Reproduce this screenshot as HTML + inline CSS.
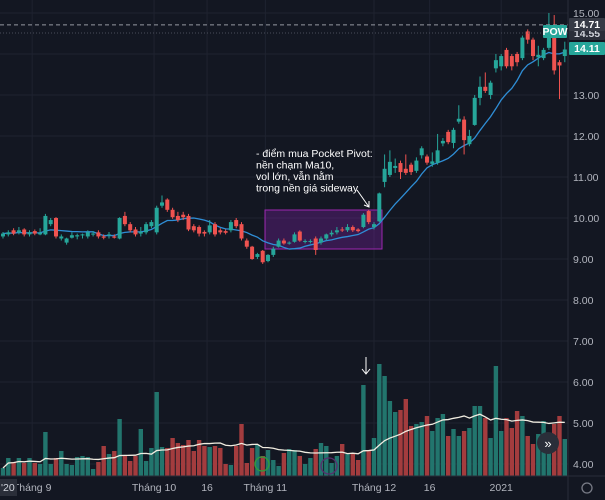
<!DOCTYPE html>
<html><head><meta charset="utf-8"><style>
html,body{margin:0;padding:0;background:#131722;}
#wrap{position:relative;width:605px;height:500px;overflow:hidden;background:#131722;font-family:"Liberation Sans","Noto Sans CJK JP",sans-serif;}
svg{position:absolute;left:0;top:0;}
</style></head><body>
<div id="wrap">
<svg id="chart" width="605" height="500" xmlns="http://www.w3.org/2000/svg"></svg>
</div>
<script>
const opens=[9.55,9.6,9.7,9.65,9.72,9.6,9.68,9.6,9.6,9.85,10.0,9.5,9.4,9.52,9.55,9.58,9.55,9.6,9.65,9.55,9.58,9.55,9.5,10.05,9.85,9.72,9.62,9.65,9.8,9.65,10.3,10.45,10.2,10.05,10.08,10.05,9.8,9.78,9.66,9.65,9.85,9.7,9.68,9.7,9.95,9.85,9.45,9.3,9.05,9.2,8.95,9.1,9.3,9.45,9.38,9.42,9.67,9.42,9.42,9.5,9.4,9.5,9.6,9.65,9.72,9.7,9.78,9.72,9.78,10.17,9.78,9.92,10.88,11.05,11.22,11.34,11.2,11.3,11.15,11.53,11.5,11.32,11.35,11.82,12.1,11.83,12.35,12.4,11.8,12.27,12.93,13.2,13.0,13.65,13.7,14.1,13.95,14.0,13.9,14.55,14.35,13.92,13.9,14.15,14.4,13.8,13.95];
const highs=[9.66,9.7,9.75,9.78,9.75,9.7,9.72,9.75,10.1,10.0,10.02,9.6,9.52,9.65,9.62,9.62,9.7,9.68,9.7,9.6,9.66,9.6,10.02,10.15,9.9,9.78,9.78,9.9,9.95,10.3,10.55,10.48,10.25,10.15,10.15,10.1,9.85,9.82,9.7,9.95,9.9,9.75,9.72,9.95,10.0,9.9,9.5,9.32,9.15,9.22,9.12,9.3,9.5,9.5,9.43,9.65,9.7,9.48,9.48,9.55,9.55,9.62,9.7,9.78,9.78,9.85,9.82,9.75,10.12,10.2,9.9,10.62,11.55,11.65,11.45,11.4,11.55,11.35,11.48,11.75,11.55,11.6,12.05,11.95,12.15,12.2,12.75,12.48,12.15,13.0,13.45,13.55,13.35,14.0,14.0,14.15,14.0,14.05,14.45,14.6,14.4,14.2,14.15,15.0,14.95,13.85,14.3];
const lows=[9.5,9.55,9.58,9.6,9.55,9.55,9.58,9.58,9.58,9.8,9.5,9.45,9.35,9.5,9.48,9.5,9.5,9.55,9.5,9.48,9.5,9.5,9.48,9.8,9.65,9.55,9.55,9.6,9.75,9.6,10.25,10.15,9.98,9.9,9.95,9.68,9.65,9.55,9.55,9.6,9.55,9.6,9.6,9.65,9.75,9.45,9.25,8.98,9.0,8.88,8.92,9.05,9.28,9.35,9.35,9.4,9.42,9.38,9.38,9.1,9.35,9.45,9.55,9.6,9.66,9.66,9.66,9.65,9.75,9.85,9.72,9.9,10.75,11.0,11.1,10.95,11.05,11.05,11.1,11.45,11.3,11.25,11.3,11.75,11.8,11.7,12.3,11.55,11.75,12.25,12.75,13.05,12.9,13.55,13.6,13.65,13.6,13.7,13.85,14.25,13.85,13.7,13.85,14.1,13.5,12.9,13.8];
const closes=[9.62,9.65,9.62,9.7,9.6,9.65,9.62,9.64,10.05,9.95,9.55,9.55,9.5,9.58,9.58,9.6,9.65,9.62,9.55,9.52,9.6,9.52,10.0,9.85,9.7,9.6,9.66,9.85,9.9,10.25,10.38,10.2,10.02,9.95,10.02,9.72,9.7,9.62,9.62,9.82,9.6,9.65,9.64,9.9,9.8,9.5,9.3,9.0,9.12,8.92,9.1,9.25,9.45,9.38,9.4,9.6,9.45,9.44,9.44,9.22,9.5,9.6,9.64,9.7,9.7,9.78,9.7,9.68,10.08,9.9,9.85,10.6,11.2,11.37,11.27,11.12,11.1,11.12,11.4,11.7,11.35,11.38,11.65,11.88,11.85,12.15,12.42,11.9,12.0,12.93,13.2,13.1,13.3,13.85,13.95,13.7,13.7,13.8,14.4,14.35,13.95,13.98,14.1,14.45,13.6,13.72,14.11];
const volumes=[8,18,14,18,13,18,13,12,44,12,18,25,12,11,19,20,19,7,14,30,22,25,57,21,15,20,47,15,28,84,29,28,38,33,31,36,25,36,30,29,30,28,12,11,30,52,13,28,31,20,26,16,10,23,27,26,20,12,18,27,33,30,13,20,32,22,22,16,91,25,38,112,100,75,64,66,77,50,52,54,60,45,58,62,40,47,40,45,48,70,70,58,38,110,45,58,48,65,60,40,32,42,55,40,52,60,37];
const priceTicks=["15.00","13.00","12.00","11.00","10.00","9.00","8.00","7.00","6.00","5.00","4.00"];
const tickValues=[15,13,12,11,10,9,8,7,6,5,4];
const timeLabels=["Tháng 9","Tháng 10","16","Tháng 11","Tháng 12","16","2021"];
const timeIndex=[5.5,28.5,38.5,49.5,70,80.5,94];

const NS="http://www.w3.org/2000/svg";
const svg=document.getElementById('chart');
const X0=3,STEP=5.3,PW=568;
const xOf=i=>X0+i*STEP;
const yOf=p=>218-(p-10)*41;
const VBASE=476,VK=1.0;
const yVol=v=>VBASE-v*VK;
function mk(t,a){const e=document.createElementNS(NS,t);for(const k in a)e.setAttribute(k,a[k]);svg.appendChild(e);return e;}

// grid
tickValues.forEach((v,i)=>{const g=mk('line',{x1:0,x2:PW,y1:yOf(v),y2:yOf(v),stroke:'#1f2330','stroke-width':1});

});
[14].forEach(v=>{const g=mk('line',{x1:0,x2:PW,y1:yOf(v),y2:yOf(v),stroke:'#1f2330','stroke-width':1});

});
timeIndex.forEach(ti=>{const g=mk('line',{x1:xOf(ti),x2:xOf(ti),y1:0,y2:476,stroke:'#1f2330','stroke-width':1});

});

// volume bars
volumes.forEach((v,i)=>{const up=closes[i]>=opens[i];
const r=mk('rect',{x:xOf(i)-2.2,y:yVol(v),width:4.4,height:v*VK,fill:up?'#22756d':'#a33c3e'});

});
// volume MA20
let vpts=[];volumes.forEach((v,i)=>{const s=Math.max(0,i-19);let sum=0;for(let j=s;j<=i;j++)sum+=volumes[j];vpts.push(xOf(i)+','+yVol(sum/(i-s+1)));});
const vl=mk('polyline',{points:vpts.join(' '),fill:'none',stroke:'#f0ece0','stroke-width':1.3});



// sideway box
const box=mk('rect',{x:265,y:210,width:117,height:39,fill:'rgba(123,31,162,0.35)',stroke:'#9c27b0','stroke-width':1});



// MA10
let pts=[];closes.forEach((c,i)=>{const s=Math.max(0,i-9);let sum=0;for(let j=s;j<=i;j++)sum+=closes[j];pts.push(xOf(i)+','+yOf(sum/(i-s+1)));});
const ma=mk('polyline',{points:pts.join(' '),fill:'none',stroke:'#2f8ed6','stroke-width':1.3});



// candles
closes.forEach((c,i)=>{const o=opens[i],up=c>=o,col=up?'#26a69a':'#ef5350';const x=xOf(i);
const w=mk('line',{x1:x,x2:x,y1:yOf(highs[i]),y2:yOf(lows[i]),stroke:col,'stroke-width':1});


const top=yOf(Math.max(o,c)),h=Math.max(1,Math.abs(yOf(o)-yOf(c)));
const b=mk('rect',{x:x-2,y:top,width:4,height:h,fill:col});

});

// price lines
const d1=mk('line',{x1:0,x2:568,y1:yOf(14.71),y2:yOf(14.71),stroke:'#9598a1','stroke-width':1,'stroke-dasharray':'4 3'});


const d2=mk('line',{x1:0,x2:568,y1:33,y2:33,stroke:'#4a4e5a','stroke-width':1,'stroke-dasharray':'1 2'});



// axes
const ax=mk('line',{x1:568,x2:568,y1:0,y2:500,stroke:'#2a2e39'});


const bx=mk('line',{x1:0,x2:605,y1:476,y2:476,stroke:'#2a2e39'});


priceTicks.forEach((t,i)=>{const e=mk('text',{x:573,y:yOf(tickValues[i])+4,fill:'#b2b5be','font-size':'10.5'});e.textContent=t;

});
timeLabels.forEach((t,i)=>{const e=mk('text',{x:xOf(timeIndex[i]),y:491,fill:'#b2b5be','font-size':'10.5','text-anchor':'middle'});e.textContent=t;

});
const yb=mk('rect',{x:0,y:479,width:17,height:17,fill:'#2a2e39'});


const yt=mk('text',{x:1,y:491,fill:'#d1d4dc','font-size':'10.5'});yt.textContent="'20";



// price labels
function tag(x,y,w,fill,txt,name,tc){const r=mk('rect',{x:x,y:y,width:w,height:13,fill:fill,rx:1});


const t=mk('text',{x:x+w/2,y:y+10,fill:tc,'font-size':'10.5','text-anchor':'middle','font-weight':'bold'});t.textContent=txt;

}
tag(569,27,36,'#2a2e39','14.55','prev-close-tag','#d1d4dc');
tag(569,18,36,'#363a45','14.71','last-price-tag','#ffffff');
tag(543,25,24,'#26a69a','POW','symbol-tag','#ffffff');
tag(569,42,36,'#26a69a','14.11','ma10-tag','#ffffff');

// annotation
const lines=["- điểm mua Pocket Pivot:","nền chạm Ma10,","vol lớn, vẫn nằm"," trong nền giá sideway"];
lines.forEach((l,i)=>{const t=mk('text',{x:256,y:157+i*11.5,fill:'#ffffff','font-size':'10.5'});t.textContent=l;

});
const a1=mk('path',{d:'M357 190 L369 207 M364 205 L369 207 L369 201',fill:'none',stroke:'#ffffff','stroke-width':1});


const a2=mk('path',{d:'M366 357 L366 374 M362 369 L366 374 L370 369',fill:'none',stroke:'#ffffff','stroke-width':1});


const c1=mk('circle',{cx:262,cy:464,r:7,fill:'none',stroke:'#2e9e3a','stroke-width':1.3});


const c2=mk('circle',{cx:329,cy:466,r:8,fill:'none',stroke:'#5a2d6e','stroke-width':1.3});


const sb=mk('circle',{cx:548,cy:443,r:11,fill:'#2a2e39'});


const st=mk('text',{x:548,y:448,fill:'#ffffff','font-size':'13','text-anchor':'middle'});st.textContent='»';


const gear=mk('circle',{cx:587,cy:488,r:5,fill:'none',stroke:'#787b86','stroke-width':1.3});


</script>
</body></html>
